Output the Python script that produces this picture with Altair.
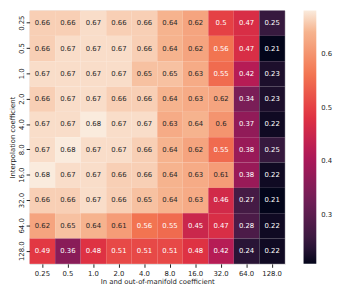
import altair as alt
import pandas as pd

x_labels = ["0.25", "0.5", "1.0", "2.0", "4.0", "8.0", "16.0", "32.0", "64.0", "128.0"]
y_labels = ["0.25", "0.5", "1.0", "2.0", "4.0", "8.0", "16.0", "32.0", "64.0", "128.0"]

row_025 = [0.66, 0.66, 0.67, 0.66, 0.66, 0.64, 0.62, 0.50, 0.47, 0.25]
row_05 = [0.66, 0.67, 0.67, 0.67, 0.66, 0.64, 0.62, 0.56, 0.47, 0.21]
row_1 = [0.67, 0.67, 0.67, 0.67, 0.65, 0.65, 0.63, 0.55, 0.42, 0.23]
row_2 = [0.66, 0.67, 0.67, 0.66, 0.66, 0.64, 0.63, 0.62, 0.34, 0.23]
row_4 = [0.67, 0.67, 0.68, 0.67, 0.67, 0.63, 0.64, 0.60, 0.37, 0.22]
row_8 = [0.67, 0.68, 0.67, 0.67, 0.66, 0.64, 0.62, 0.55, 0.38, 0.25]
row_16 = [0.68, 0.67, 0.67, 0.66, 0.66, 0.64, 0.63, 0.61, 0.38, 0.22]
row_32 = [0.66, 0.66, 0.67, 0.66, 0.65, 0.64, 0.63, 0.46, 0.27, 0.21]
row_64 = [0.62, 0.65, 0.64, 0.61, 0.56, 0.55, 0.45, 0.47, 0.28, 0.22]
row_128 = [0.49, 0.36, 0.48, 0.51, 0.51, 0.51, 0.48, 0.42, 0.24, 0.22]

values = [row_025, row_05, row_1, row_2, row_4, row_8, row_16, row_32, row_64, row_128]

records = []
for i, yl in enumerate(y_labels):
    for j, xl in enumerate(x_labels):
        v = values[i][j]
        records.append({"x": xl, "y": yl, "v": v, "label": f"{v:.2g}"})
df = pd.DataFrame(records)

vmin, vmax = 0.21, 0.68
stops = [0.0, 0.0833, 0.25, 0.4167, 0.5833, 0.75, 0.9167, 1.0]
rocket = ["#03051a", "#35193e", "#701f57", "#ad1759", "#e13342", "#f37651", "#f6b48f", "#faebdd"]
domain = [vmin + s * (vmax - vmin) for s in stops]

FONT = "DejaVu Sans"

base = alt.Chart(df).encode(
    x=alt.X(
        "x:O",
        sort=x_labels,
        title="In and out-of-manifold coefficient",
        axis=alt.Axis(labelAngle=0, domain=False, tickSize=3.5, tickColor="#222",
                      labelFontSize=7, titleFontSize=7, titleFontWeight="normal",
                      labelFont=FONT, titleFont=FONT, labelColor="#222", titleColor="#222",
                      labelPadding=2, titlePadding=2),
    ),
    y=alt.Y(
        "y:O",
        sort=y_labels,
        title="Interpolation coefficient",
        axis=alt.Axis(labelAngle=270, labelAlign="center", labelBaseline="bottom",
                      domain=False, tickSize=3.5, tickColor="#222",
                      labelFontSize=7, titleFontSize=7, titleFontWeight="normal",
                      labelFont=FONT, titleFont=FONT, labelColor="#222", titleColor="#222",
                      labelPadding=2, titlePadding=2),
    ),
)

rect = base.mark_rect().encode(
    color=alt.Color(
        "v:Q",
        scale=alt.Scale(domain=domain, range=rocket, interpolate="rgb"),
        legend=alt.Legend(title=None, orient="right", direction="vertical",
                          gradientLength=258, gradientThickness=13, gradientStrokeWidth=0,
                          values=[0.3, 0.4, 0.5, 0.6], labelFontSize=7, labelFont=FONT,
                          labelColor="#222", offset=19, padding=0, labelOffset=5),
    )
)

text = base.mark_text(fontSize=7, font=FONT).encode(
    text="label:N",
    color=alt.condition(alt.datum.v >= 0.58, alt.value("#262626"), alt.value("#ffffff")),
)

chart = (rect + text).properties(width=260, height=258).configure_view(stroke=None).configure(padding=0)

chart.save("out.html", embed_options={"renderer": "svg", "actions": False})
